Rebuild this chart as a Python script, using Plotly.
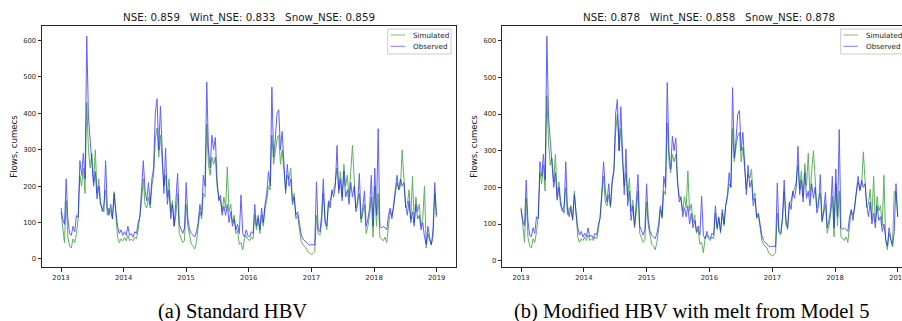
import pandas as pd
import plotly.graph_objects as go

# ---------------- data (~10-day steps) ----------------
dates = pd.date_range("2013-01-01", periods=220, freq="10D")

observed = [
    # 2013
    140, 110, 95, 220, 110, 70, 65, 90, 75, 120,
    115, 270, 230, 290, 220, 612, 390, 330, 260, 200,
    240, 165, 200, 150, 140, 130, 270, 140, 120, 150,
    110, 180, 130, 90, 70, 80, 65,
    # 2014
    75, 65, 90, 65, 70, 60, 75, 70, 100, 115,
    180, 270, 190, 160, 210, 150, 220, 250, 400, 440,
    300, 420, 300, 180, 305, 150, 190, 110, 150, 90,
    160, 235, 95, 80, 70, 85,
    # 2015
    210, 110, 80, 70, 65, 60, 75, 100, 150, 120,
    230, 200, 486, 300, 250, 340, 300, 334, 220, 160,
    175, 120, 145, 120, 150, 100, 130, 90, 110, 80,
    95, 70, 176, 70, 60, 80, 65,
    # 2016
    60, 75, 70, 150, 90, 120, 80, 140, 100, 150,
    180, 240, 200, 472, 280, 330, 400, 410, 300, 350,
    250, 180, 260, 200, 220, 150, 170, 120, 130, 100,
    70, 55, 50, 45, 40, 38, 40,
    # 2017
    40, 38, 212, 80, 75, 120, 220, 100, 90, 160,
    140, 190, 170, 200, 312, 180, 220, 160, 240, 170,
    190, 150, 210, 170, 200, 130, 150, 235, 110, 140,
    187, 90, 110, 140, 230, 90,
    # 2018
    250, 120, 358, 90, 85, 90, 85, 80, 120, 140,
    110, 150, 200, 230, 190, 220, 200, 210, 150, 120,
    160, 100, 130, 90, 150, 110, 120, 80, 100, 60,
    40, 90, 60, 38, 80, 210, 120,
]

simulated_standard = [
    # 2013
    130, 80, 45, 160, 60, 35, 30, 55, 45, 70,
    110, 230, 200, 250, 180, 430, 300, 250, 290, 210,
    300, 180, 220, 160, 130, 150, 190, 120, 140, 130,
    110, 185, 120, 60, 45, 55, 50,
    # 2014
    60, 50, 65, 50, 55, 50, 60, 55, 80, 120,
    160, 220, 150, 140, 170, 140, 200, 230, 330, 360,
    280, 340, 260, 200, 230, 170, 220, 130, 160, 90,
    120, 180, 70, 55, 45, 50,
    # 2015
    150, 90, 60, 40, 35, 28, 45, 80, 130, 110,
    180, 170, 370, 260, 230, 280, 260, 280, 200, 170,
    160, 130, 170, 140, 253, 130, 150, 100, 120, 70,
    80, 40, 45, 25, 55, 65, 55,
    # 2016
    50, 60, 55, 120, 80, 110, 70, 120, 90, 140,
    160, 200, 190, 340, 260, 300, 330, 340, 260, 300,
    240, 190, 230, 220, 250, 160, 180, 110, 120, 80,
    50, 40, 35, 30, 20, 15, 12,
    # 2017
    15, 20, 120, 70, 65, 100, 180, 110, 80, 150,
    160, 180, 190, 210, 250, 190, 240, 170, 260, 200,
    230, 170, 240, 312, 220, 140, 160, 180, 100, 130,
    150, 70, 90, 120, 170, 60,
    # 2018
    200, 90, 180, 60, 55, 50, 60, 45, 90, 130,
    120, 140, 180, 210, 190, 200, 300, 200, 140, 150,
    190, 110, 227, 100, 170, 130, 150, 90, 110, 200,
    30, 70, 50, 40, 60, 180, 115,
]

simulated_modified = [
    # 2013
    145, 90, 50, 170, 65, 40, 35, 60, 50, 80,
    120, 240, 210, 260, 190, 450, 320, 260, 280, 215,
    290, 175, 215, 165, 135, 150, 200, 125, 145, 135,
    115, 190, 125, 65, 50, 60, 55,
    # 2014
    65, 55, 70, 55, 60, 55, 65, 60, 85, 125,
    170, 230, 160, 150, 180, 145, 210, 240, 350, 400,
    300, 360, 270, 205, 240, 175, 225, 135, 165, 95,
    130, 190, 75, 60, 50, 55,
    # 2015
    160, 95, 65, 45, 40, 30, 50, 85, 140, 115,
    190, 180, 375, 270, 240, 290, 270, 290, 210, 175,
    165, 135, 175, 145, 245, 135, 155, 105, 125, 75,
    85, 45, 50, 22, 60, 70, 60,
    # 2016
    55, 65, 60, 130, 85, 115, 75, 130, 95, 150,
    170, 210, 200, 360, 270, 310, 340, 350, 270, 310,
    250, 195, 235, 225, 250, 165, 185, 115, 125, 85,
    55, 45, 40, 35, 22, 16, 13,
    # 2017
    16, 22, 130, 75, 70, 110, 190, 115, 85, 155,
    165, 185, 195, 215, 260, 195, 245, 175, 265, 205,
    293, 175, 245, 300, 225, 145, 165, 185, 105, 135,
    155, 75, 95, 125, 175, 65,
    # 2018
    210, 95, 190, 65, 60, 55, 65, 50, 95, 135,
    125, 145, 185, 215, 195, 205, 297, 205, 145, 155,
    195, 115, 230, 105, 175, 135, 150, 95, 233, 55,
    30, 75, 55, 45, 190, 185, 120,
]

year_ticks = ["2013", "2014", "2015", "2016", "2017", "2018", "2019"]
flow_ticks = [0, 100, 200, 300, 400, 500, 600]

titles = [
    "NSE: 0.859   Wint_NSE: 0.833   Snow_NSE: 0.859",
    "NSE: 0.878   Wint_NSE: 0.858   Snow_NSE: 0.878",
]
captions = ["(a) Standard HBV", "(b) Modified HBV with melt from Model 5"]
series_names = ["Simulated", "Observed"]
y_label = "Flows, cumecs"

# ---------------- layout helpers ----------------
W, H = 902, 321
def px(x):
    return x / W
def py(y):
    return 1 - y / H

AX = "#262626"
FONT = "DejaVu Sans"
SIM_COLOR = "green"
OBS_COLOR = "blue"
ALPHA = 0.62

fig = go.Figure()
for i, sim in enumerate([simulated_standard, simulated_modified]):
    xa = "x" if i == 0 else "x2"
    ya = "y" if i == 0 else "y2"
    fig.add_trace(go.Scatter(x=dates, y=sim, mode="lines", name=series_names[0],
                             line=dict(color=SIM_COLOR, width=1), opacity=ALPHA,
                             xaxis=xa, yaxis=ya, showlegend=False))
    fig.add_trace(go.Scatter(x=dates, y=observed, mode="lines", name=series_names[1],
                             line=dict(color=OBS_COLOR, width=1), opacity=ALPHA,
                             xaxis=xa, yaxis=ya, showlegend=False))

tickvals_x = [f"{y}-01-01" for y in year_ticks]
common_x = dict(type="date", tickvals=tickvals_x, ticktext=year_ticks,
                ticks="outside", ticklen=3.5, tickwidth=0.8, tickcolor=AX,
                showline=True, linecolor=AX, linewidth=1, showgrid=False,
                zeroline=False, ticklabeloverflow="allow",
                tickfont=dict(family=FONT, size=6.8, color="#262626"))
common_y = dict(tickvals=flow_ticks, ticks="outside", ticklen=3.5, tickwidth=0.8,
                tickcolor=AX, showline=True, linecolor=AX, linewidth=1,
                showgrid=False, zeroline=False,
                tickfont=dict(family=FONT, size=6.8, color="#262626"))

ydom = [py(267), py(26)]
fig.update_layout(
    width=W, height=H, margin=dict(l=0, r=0, t=0, b=0, autoexpand=False),
    paper_bgcolor="white", plot_bgcolor="white", showlegend=False,
    xaxis=dict(domain=[px(42), px(455.5)], range=["2012-09-12", "2019-04-21"],
               anchor="y", mirror=True, **common_x),
    yaxis=dict(domain=ydom, range=[-22, 640], anchor="x", mirror=True, **common_y),
    xaxis2=dict(domain=[px(502.3), 1.0], range=["2012-09-14", "2019-01-25"],
                anchor="y2", mirror=True, **common_x),
    yaxis2=dict(domain=ydom, range=[-17, 640], anchor="x2", mirror=False, **common_y),
)

annotations = []
shapes = []
panel_title_x = [248.5, 708.5]
panel_ylabel_x = [13.3, 473.3]
caption_x = [232.5, 692.2]
legend_dx = [0, 453]
for i in range(2):
    annotations.append(dict(text=titles[i].replace(" ", "\u00a0"), x=px(panel_title_x[i]),
                            y=py(17), xref="paper", yref="paper", showarrow=False,
                            xanchor="center", yanchor="middle",
                            font=dict(family=FONT, size=10.3, color="#1a1a1a")))
    annotations.append(dict(text=y_label, x=px(panel_ylabel_x[i]), y=py(146.5),
                            xref="paper", yref="paper", showarrow=False, textangle=-90,
                            xanchor="center", yanchor="middle",
                            font=dict(family=FONT, size=8.6, color="#1a1a1a")))
    annotations.append(dict(text=captions[i], x=px(caption_x[i]), y=py(311),
                            xref="paper", yref="paper", showarrow=False,
                            xanchor="center", yanchor="middle",
                            font=dict(family="Liberation Serif", size=20.5, color="black")))
    dx = legend_dx[i]
    # legend frame
    shapes.append(dict(type="rect", xref="paper", yref="paper",
                       x0=px(387.7 + dx), x1=px(451 + dx), y0=py(54), y1=py(29),
                       line=dict(color="#cccccc", width=1),
                       fillcolor="rgba(255,255,255,0.8)", layer="above"))
    for j, (col, yy) in enumerate([(SIM_COLOR, 35), (OBS_COLOR, 46.3)]):
        shapes.append(dict(type="line", xref="paper", yref="paper",
                           x0=px(390.5 + dx), x1=px(405 + dx), y0=py(yy), y1=py(yy),
                           line=dict(color=col, width=1), opacity=0.5, layer="above"))
        annotations.append(dict(text=series_names[j], x=px(411 + dx), y=py(yy),
                                xref="paper", yref="paper", showarrow=False,
                                xanchor="left", yanchor="middle",
                                font=dict(family=FONT, size=7.2, color="#1a1a1a")))

fig.update_layout(annotations=annotations, shapes=shapes)
fig.write_html("out.html")
